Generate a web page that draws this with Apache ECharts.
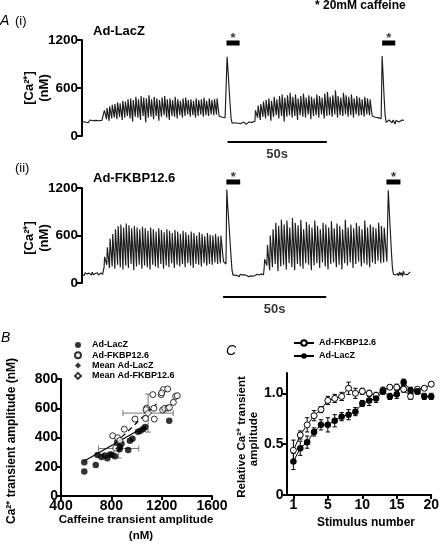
<!DOCTYPE html>
<html>
<head>
<meta charset="utf-8">
<script src="https://cdn.jsdelivr.net/npm/echarts@6/dist/echarts.min.js"></script>
<style>
html,body{margin:0;padding:0;background:#fff;}
#c{width:442px;height:544px;}
</style>
</head>
<body>
<div id="c"></div>
<script>
// ---------------- DATA ----------------
// Panel A(i) Ad-LacZ trace (nM). Segment time windows (s)
const lacZSegTimes = [[0,11],[11,69],[69,72.5],[73,76.5],[77,87],[87,146],[146,150.5],[151,153.5],[154,162]];
const lacZBase1 = [180,170,190,175,195,180,165,185,200,175,180,190,170,185,195,175,180,190,175,185,195,180,200];
const lacZPeaks1 = [320,350,370,390,400,420,410,440,430,460,470,450,490,460,500,480,470,510,460,490,470,450,480,500,460,470,450,490,460,440,470,480,450,460,440,470,450,460,480,440,470,450,460,470];
const lacZTroughs1 = [200,210,190,220,230,210,240,200,230,250,220,180,240,230,200,250,170,230,240,210,250,190,240,260,230,200,250,240,220,260,230,250,270,240,260,230,250,270,240,260,250,270,260,270];
const lacZPost1 = [250,240,255,235,245,240,230,240];
const lacZCaff1 = [990,800,600,400,220,160,150,165];
const lacZBase2 = [165,150,175,160,145,170,155,165,150,175,160,145,170,160,175,155,165,170,160,175,185];
const lacZPeaks2 = [320,380,400,430,450,470,440,490,460,500,520,480,510,540,490,520,470,500,530,480,510,490,470,520,500,480,530,550,490,510,570,500,480,540,510,490,520,470,500,480,460,490,470,460];
const lacZTroughs2 = [210,230,200,240,220,250,190,240,260,220,250,180,240,260,230,250,200,260,240,230,270,210,250,260,230,270,220,250,260,240,270,230,260,250,270,240,260,230,270,250,260,240,270,260];
const lacZPost2 = [250,240,230,235,225,240,230,220,230,215];
const lacZCaff2 = [1000,750,480,260,170,150];
const lacZBase3 = [180,200,175,190,165,200,185,150,195,180,205,175,190,170,200,185,195];

// Panel A(ii) Ad-FKBP12.6 trace (nM)
const fkbpSegTimes = [[0,10.5],[10.7,68.4],[68.6,69.8],[70.2,75.2],[75.7,88],[88.3,147.6],[147.8,148.2],[148.5,152.5],[153,159.2]];
const fkbpBase1 = [100,120,95,130,105,115,90,125,110,100,135,105,95,120,110,130,100,115,125,105,110,95];
const fkbpPeaks1 = [330,450,560,620,680,720,740,700,750,730,690,720,700,680,710,690,660,700,680,650,690,670,640,680,660,630,670,650,620,660,640,610,650,630,600,640,620,590,630,610,600,620,590,600];
const fkbpTroughs1 = [200,230,190,210,180,230,200,170,220,190,240,160,210,230,180,220,200,170,230,210,190,240,180,220,200,250,190,230,210,240,200,250,220,190,240,230,210,250,220,240,230,260,240,250];
const fkbpPost1 = [270,250,260,240];
const fkbpCaff1 = [1180,950,760,560,360,170,100,85,100,90,95];
const fkbpBase2 = [95,80,110,90,100,75,105,85,95,110,80,100,90,105,85,100,95,80,110,90,100,95,115,90,105];
const fkbpPeaks2 = [300,480,600,680,760,720,800,740,790,700,820,760,730,800,680,770,740,700,790,720,680,760,740,700,780,690,750,720,680,800,700,740,690,760,720,680,790,700,740,710,690,760,720,700];
const fkbpTroughs2 = [180,220,160,200,240,150,210,230,170,250,200,160,240,210,180,250,230,160,220,250,190,260,210,170,240,260,200,230,170,250,220,260,190,240,270,210,250,230,200,260,240,280,250,260];
const fkbpPost2 = [270,250];
const fkbpCaff2 = [1170,900,650,400,190,110,90,100,80];
const fkbpBase3 = [120,90,140,100,130,85,150,110,95,135,105,120,90,140];

// caffeine application bars and 50 s scale bars (time, s)
const lacZCaffBars = [[72.7,79.3],[151,157.6]];
const fkbpCaffBars = [[70,76.7],[147.6,154.4]];
const lacZScaleBar = [73.2,123.2];
const fkbpScaleBar = [68.4,118.4];
const scaleBarLabel = '50s';

// Panel B
const lacZCaffeine = [585,585,676,690,722,748,768,790,805,828,846,868,881,865,934,947,968,1012,1032,1053,1069,1260];
const lacZAmplitude = [230,168,212,281,266,277,258,283,282,272,366,334,357,320,314,378,392,440,446,458,472,514];
const fkbpCaffeine = [811,850,835,868,903,988,1072,1081,1076,1141,1138,1130,1196,1214,1248,1208,1224,1250,1262,1293,1311,1324,1200];
const fkbpAmplitude = [412,398,327,380,457,526,530,601,590,526,600,693,693,728,732,588,600,601,605,640,681,686,705];
const meanCaffeine = [858,1092];
const meanAmplitude = [325,567];
const meanCaffeineSEM = [160,200];
const meanAmplitudeSEM = [65,130];
const lacZFit = [[585,240],[1075,478]];
const fkbpFit = [[830,360],[1160,630]];

// Panel C
const cPosition = [0,1,2,3,4,5,6,7,8,9,10,11,12,13,14,15,16,17,18,19,20];
const cFkbp = [0.44,0.59,0.69,0.78,0.84,0.93,0.95,0.97,1.05,1.00,1.02,1.00,0.98,1.03,1.06,1.06,1.04,0.97,1.04,1.05,1.09];
const cFkbpErr = [0.10,0.04,0.07,0.05,0.03,0.04,0.04,0.04,0.06,0.05,0.03,0.03,0.03,0.03,0.02,0.03,0.03,0.03,0.02,0.02,0.02];
const cLacZ = [0.33,0.46,0.52,0.62,0.69,0.69,0.73,0.77,0.79,0.82,0.90,0.93,0.95,1.02,0.97,0.99,1.11,1.03,1.02,0.97,0.97];
const cLacZErr = [0.08,0.07,0.06,0.04,0.05,0.07,0.06,0.04,0.05,0.04,0.03,0.05,0.04,0.03,0.03,0.04,0.03,0.03,0.03,0.03,0.03];
const cTickValues = [0,5,10,15,20];
const cTickLabels = ['1','5','10','15','20'];

// ---------------- BUILD ----------------
function buildTrace(times, segs){
  const pts=[];
  segs.forEach((s,k)=>{
    const t0=times[k][0], t1=times[k][1];
    if (Array.isArray(s[0])) {
      const peaks=s[0], troughs=s[1], n=peaks.length, p=(t1-t0)/n;
      for(let i=0;i<n;i++){ const t=t0+i*p; pts.push([t,troughs[i]]); pts.push([t+0.2*p,peaks[i]]); }
    } else {
      const n=s.length, dt=n>1?(t1-t0)/(n-1):0;
      for(let i=0;i<n;i++) pts.push([t0+i*dt,s[i]]);
    }
  });
  return pts;
}
const traceLacZ = buildTrace(lacZSegTimes,[lacZBase1,[lacZPeaks1,lacZTroughs1],lacZPost1,lacZCaff1,lacZBase2,[lacZPeaks2,lacZTroughs2],lacZPost2,lacZCaff2,lacZBase3]);
const traceFkbp = buildTrace(fkbpSegTimes,[fkbpBase1,[fkbpPeaks1,fkbpTroughs1],fkbpPost1,fkbpCaff1,fkbpBase2,[fkbpPeaks2,fkbpTroughs2],fkbpPost2,fkbpCaff2,fkbpBase3]);

const F = '"Liberation Sans", Arial, sans-serif';
const zip=(a,b)=>a.map((v,i)=>[v,b[i]]);
const plain=v=>String(v);

function yAxisA(grid){
  return {gridIndex:grid,type:'value',min:0,max:1200,interval:600,
    axisLine:{show:true,onZero:false,lineStyle:{color:'#000',width:2}},
    axisTick:{show:true,length:5,lineStyle:{color:'#000',width:2}},
    axisLabel:{color:'#000',fontSize:13.5,fontWeight:'bold',fontFamily:F,margin:4,formatter:plain},
    splitLine:{show:false}};
}

const series=[];
function traceSeries(xi,data){
  series.push({type:'line',xAxisIndex:xi,yAxisIndex:xi,data:data,symbol:'none',
    lineStyle:{color:'#1c1c1c',width:1.15},silent:true,z:2});
}
traceSeries(0,traceLacZ);
traceSeries(1,traceFkbp);

function barsAndStars(xi,bars,yBar,scale,yScale){
  bars.forEach(b=>{
    series.push({type:'line',xAxisIndex:xi,yAxisIndex:xi,clip:false,symbol:'none',
      data:[[b[0],yBar],[b[1],yBar]],lineStyle:{color:'#000',width:5,cap:'butt'},silent:true});
  });
  series.push({type:'scatter',xAxisIndex:xi,yAxisIndex:xi,clip:false,symbolSize:1,
    itemStyle:{color:'rgba(0,0,0,0)'},
    data:bars.map(b=>[(b[0]+b[1])/2,yBar]),
    label:{show:true,formatter:'*',position:'top',distance:-2,color:'#000',fontSize:13,fontWeight:'bold',fontFamily:F},silent:true});
  series.push({type:'line',xAxisIndex:xi,yAxisIndex:xi,clip:false,symbol:'none',
    data:[[scale[0],yScale],[scale[1],yScale]],lineStyle:{color:'#000',width:2},silent:true});
  series.push({type:'scatter',xAxisIndex:xi,yAxisIndex:xi,clip:false,symbolSize:1,
    itemStyle:{color:'rgba(0,0,0,0)'},
    data:[[(scale[0]+scale[1])/2,yScale]],
    label:{show:true,formatter:scaleBarLabel,position:'bottom',distance:5,color:'#000',fontSize:13,fontWeight:'bold',fontFamily:F},silent:true});
}
barsAndStars(0,lacZCaffBars,1162,lacZScaleBar,-75);
barsAndStars(1,fkbpCaffBars,1276,fkbpScaleBar,-177);

// Panel B
series.push({type:'custom',xAxisIndex:2,yAxisIndex:2,silent:true,z:3,
  data:meanCaffeine.map((v,i)=>[v,meanAmplitude[i],meanCaffeineSEM[i],meanAmplitudeSEM[i]]),
  renderItem:(params,api)=>{
    const x=api.value(0),y=api.value(1),ex=api.value(2),ey=api.value(3);
    const l=api.coord([x-ex,y]),r=api.coord([x+ex,y]),t=api.coord([x,y+ey]),b=api.coord([x,y-ey]);
    const st={stroke:'#777',lineWidth:1};const c=3;
    return {type:'group',children:[
      {type:'line',shape:{x1:l[0],y1:l[1],x2:r[0],y2:r[1]},style:st},
      {type:'line',shape:{x1:t[0],y1:t[1],x2:b[0],y2:b[1]},style:st},
      {type:'line',shape:{x1:l[0],y1:l[1]-c,x2:l[0],y2:l[1]+c},style:st},
      {type:'line',shape:{x1:r[0],y1:r[1]-c,x2:r[0],y2:r[1]+c},style:st},
      {type:'line',shape:{x1:t[0]-c,y1:t[1],x2:t[0]+c,y2:t[1]},style:st},
      {type:'line',shape:{x1:b[0]-c,y1:b[1],x2:b[0]+c,y2:b[1]},style:st}
    ]};
  }});
series.push({type:'line',xAxisIndex:2,yAxisIndex:2,data:lacZFit,symbol:'none',lineStyle:{color:'#000',width:1.2},silent:true,z:4});
series.push({type:'line',xAxisIndex:2,yAxisIndex:2,data:fkbpFit,symbol:'none',lineStyle:{color:'#000',width:1.2,type:[5,4]},silent:true,z:4});
series.push({name:'Ad-LacZ',type:'scatter',xAxisIndex:2,yAxisIndex:2,data:zip(lacZCaffeine,lacZAmplitude),symbol:'circle',symbolSize:6.5,symbolKeepAspect:true,itemStyle:{color:'#000'},z:5});
series.push({name:'Ad-FKBP12.6',type:'scatter',xAxisIndex:2,yAxisIndex:2,data:zip(fkbpCaffeine,fkbpAmplitude),symbol:'circle',symbolSize:6,symbolKeepAspect:true,itemStyle:{color:'#fff',borderColor:'#000',borderWidth:1},z:5});
series.push({name:'Mean Ad-LacZ',type:'scatter',xAxisIndex:2,yAxisIndex:2,data:[[meanCaffeine[0],meanAmplitude[0]]],symbol:'diamond',symbolSize:7,symbolKeepAspect:true,itemStyle:{color:'#000'},z:6});
series.push({name:'Mean Ad-FKBP12.6',type:'scatter',xAxisIndex:2,yAxisIndex:2,data:[[meanCaffeine[1],meanAmplitude[1]]],symbol:'diamond',symbolSize:7,symbolKeepAspect:true,itemStyle:{color:'#fff',borderColor:'#000',borderWidth:1},z:6});

// Panel C
function cErr(vals,errs){
  series.push({type:'custom',xAxisIndex:3,yAxisIndex:3,silent:true,z:3,
    data:cPosition.map((x,i)=>[x,vals[i],errs[i]]),
    renderItem:(params,api)=>{
      const x=api.value(0),y=api.value(1),e=api.value(2);
      const t=api.coord([x,y+e]),b=api.coord([x,y-e]);const c=2.2;
      const st={stroke:'#000',lineWidth:1};
      return {type:'group',children:[
        {type:'line',shape:{x1:t[0],y1:t[1],x2:b[0],y2:b[1]},style:st},
        {type:'line',shape:{x1:t[0]-c,y1:t[1],x2:t[0]+c,y2:t[1]},style:st},
        {type:'line',shape:{x1:b[0]-c,y1:b[1],x2:b[0]+c,y2:b[1]},style:st}]};
    }});
}
cErr(cFkbp,cFkbpErr);
cErr(cLacZ,cLacZErr);
series.push({name:'Ad-FKBP12.6 ',type:'line',xAxisIndex:3,yAxisIndex:3,data:zip(cPosition,cFkbp),symbol:'circle',symbolSize:6,showSymbol:true,
  itemStyle:{color:'#fff',borderColor:'#000',borderWidth:1},lineStyle:{color:'#000',width:1},z:5});
series.push({name:'Ad-LacZ ',type:'line',xAxisIndex:3,yAxisIndex:3,data:zip(cPosition,cLacZ),symbol:'circle',symbolSize:6.5,showSymbol:true,
  itemStyle:{color:'#000'},lineStyle:{color:'#000',width:1},z:5});

const axLabel={color:'#000',fontSize:14,fontWeight:'bold',fontFamily:F};
const axLine={show:true,onZero:false,lineStyle:{color:'#000',width:2}};
const axTick={show:true,length:4,lineStyle:{color:'#000',width:2}};

function txt(text,x,y,size,opts){
  opts=opts||{};
  return {type:'text',x:x,y:y,rotation:opts.rot||0,silent:true,
    style:{text:text,fontSize:size,fontWeight:opts.weight||'bold',fontStyle:opts.style||'normal',fontFamily:F,fill:'#000',
      align:opts.align||'left',verticalAlign:'middle'}};
}
const R=Math.PI/2;

const option={
  animation:false,
  backgroundColor:'#fff',
  textStyle:{fontFamily:F},
  grid:[
    {left:82,top:40,width:322,height:96},
    {left:82,top:188,width:330,height:95},
    {left:61,top:379,width:151,height:117},
    {left:286.5,top:373,width:147.5,height:122}
  ],
  xAxis:[
    {gridIndex:0,type:'value',min:0,max:162,show:false},
    {gridIndex:1,type:'value',min:0,max:160,show:false},
    {gridIndex:2,type:'value',min:400,max:1600,interval:400,axisLine:axLine,axisTick:axTick,axisLabel:Object.assign({margin:3,formatter:plain},axLabel),splitLine:{show:false}},
    {gridIndex:3,type:'value',min:-1,max:20,axisLine:axLine,
      axisTick:Object.assign({customValues:cTickValues},axTick),
      axisLabel:Object.assign({margin:3,customValues:cTickValues,formatter:v=>cTickLabels[cTickValues.indexOf(v)]},axLabel),splitLine:{show:false}}
  ],
  yAxis:[
    yAxisA(0), yAxisA(1),
    {gridIndex:2,type:'value',min:0,max:800,interval:200,axisLine:axLine,axisTick:axTick,axisLabel:Object.assign({margin:3,formatter:plain},axLabel),splitLine:{show:false}},
    {gridIndex:3,type:'value',min:0,max:1.2,axisLine:axLine,
      axisTick:Object.assign({customValues:[0,0.5,1]},axTick),
      axisLabel:Object.assign({margin:3,customValues:[0,0.5,1],formatter:v=>v===0?'0':v.toFixed(1)},axLabel),splitLine:{show:false}}
  ],
  legend:[
    {data:['Ad-LacZ','Ad-FKBP12.6','Mean Ad-LacZ','Mean Ad-FKBP12.6'],orient:'vertical',left:74,top:340,padding:0,
      itemWidth:6,itemHeight:6,itemGap:0.3,selectedMode:false,symbolKeepAspect:true,
      textStyle:{fontSize:9,fontWeight:'bold',fontFamily:F,color:'#000',lineHeight:10,padding:[0,0,0,6]}},
    {data:['Ad-FKBP12.6 ','Ad-LacZ '],orient:'vertical',left:293,top:338,padding:0,
      itemWidth:20,itemHeight:7,itemGap:3,selectedMode:false,
      textStyle:{fontSize:9,fontWeight:'bold',fontFamily:F,color:'#000',lineHeight:10}}
  ],
  graphic:[
    txt('* 20mM caffeine',315,6,12),
    txt('A',0,21,14,{weight:'normal',style:'italic'}),
    txt('(i)',15,21,13,{weight:'normal'}),
    txt('Ad-LacZ',93,31.5,13),
    txt('(ii)',15,168,13,{weight:'normal'}),
    txt('Ad-FKBP12.6',93,178,13),
    txt('[Ca²⁺]',29,88,13,{rot:R,align:'center'}),
    txt('(nM)',44,88,13,{rot:R,align:'center'}),
    txt('[Ca²⁺]',29,238,13,{rot:R,align:'center'}),
    txt('(nM)',44,238,13,{rot:R,align:'center'}),
    txt('B',1,338,14,{weight:'normal',style:'italic'}),
    txt('Ca²⁺ transient amplitude (nM)',12,441,12,{rot:R,align:'center'}),
    txt('Caffeine transient amplitude',136,520,11.5,{align:'center'}),
    txt('(nM)',141,536,11.5,{align:'center'}),
    txt('C',226,351,14,{weight:'normal',style:'italic'}),
    txt('Relative Ca²⁺ transient',242,437,11.5,{rot:R,align:'center'}),
    txt('amplitude',254,439,11.5,{rot:R,align:'center'}),
    txt('Stimulus number',366,523,12,{align:'center'})
  ],
  series:series
};
const chart=echarts.init(document.getElementById('c'),null,{renderer:'canvas'});
chart.setOption(option);
</script>
</body>
</html>
